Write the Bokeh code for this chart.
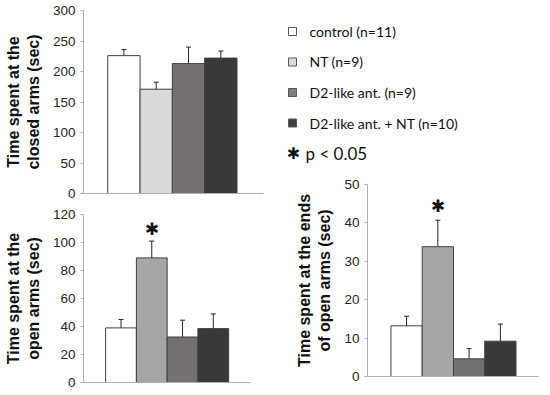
from bokeh.plotting import figure
from bokeh.models import Range1d, ColumnDataSource, Whisker, TeeHead, FixedTicker
from bokeh.layouts import row, column
from bokeh.core.properties import value
from bokeh.embed import file_html
from bokeh.resources import INLINE

# ---- data ----
groups = ["control (n=11)", "NT (n=9)", "D2-like ant. (n=9)", "D2-like ant. + NT (n=10)"]
positions = [1, 2, 3, 4]
closed_mean = [226, 171, 213, 222]
closed_err = [10, 11.5, 27, 11.5]
open_mean = [39, 89, 32.5, 38.5]
open_err = [6, 12, 12, 10.5]
ends_mean = [13.2, 33.8, 4.6, 9.2]
ends_err = [2.5, 6.9, 2.65, 4.45]
significant = [False, True, False, False]
closed_ticks = [0, 50, 100, 150, 200, 250, 300]
open_ticks = [0, 20, 40, 60, 80, 100, 120]
ends_ticks = [0, 10, 20, 30, 40, 50]
sig_label = "p < 0.05"

colors_closed = ["#ffffff", "#d9d9d9", "#767171", "#3b3838"]
colors_open = ["#ffffff", "#a6a6a6", "#767171", "#3b3838"]
legend_colors = ["#ffffff", "#d9d9d9", "#7f7f7f", "#404040"]

STAR = "\u2731"


def panel(width, height, xr, yend, ticks, label, means, errs, colors,
          bl, bt, bb, br, sig=None):
    p = figure(width=width, height=height, x_range=Range1d(*xr),
               y_range=Range1d(0, yend), output_backend="svg",
               toolbar_location=None, min_border_left=bl, min_border_top=bt,
               min_border_bottom=bb, min_border_right=br, frame_align=False)
    p.outline_line_color = None
    p.xgrid.grid_line_color = None
    p.ygrid.grid_line_color = None
    p.background_fill_color = "white"
    p.border_fill_color = "white"
    src = ColumnDataSource(dict(
        x=positions, top=means,
        upper=[m + e for m, e in zip(means, errs)],
        lower=[m - e for m, e in zip(means, errs)],
        color=colors))
    p.vbar(x="x", top="top", width=1.0, fill_color="color",
           line_color="#404040", line_width=1, source=src)
    w = Whisker(source=src, base="x", upper="upper", lower="lower",
                line_color="#262626", line_width=1,
                upper_head=TeeHead(size=5, line_color="#262626", line_width=1),
                lower_head=TeeHead(size=5, line_color="#262626", line_width=1))
    p.add_layout(w)
    if sig is not None:
        sx = [x for x, s in zip(positions, sig) if s]
        sy = [m + e + 0.075 * yend for m, e, s in zip(means, errs, sig) if s]
        p.text(x=sx, y=sy, text=[STAR] * len(sx), text_align="center",
               text_baseline="middle", text_font=value("DejaVu Sans"),
               text_font_size="17px", text_color="#111111")
    ya = p.yaxis[0]
    ya.ticker = FixedTicker(ticks=ticks)
    ya.axis_line_color = "#b0b0b0"
    ya.major_tick_line_color = "#b0b0b0"
    ya.major_tick_out = 3
    ya.major_tick_in = 0
    ya.minor_tick_line_color = None
    ya.major_label_text_font = "Liberation Sans"
    ya.major_label_text_font_size = "13.5px"
    ya.major_label_text_color = "#262626"
    ya.major_label_standoff = 5
    ya.axis_label = label
    ya.axis_label_text_font = "Liberation Sans"
    ya.axis_label_text_font_style = "bold"
    ya.axis_label_text_font_size = "16px"
    ya.axis_label_text_color = "#111111"
    ya.axis_label_standoff = 8
    xa = p.xaxis[0]
    xa.ticker = FixedTicker(ticks=[])
    xa.axis_line_color = "#b0b0b0"
    xa.major_tick_line_color = None
    xa.minor_tick_line_color = None
    xa.major_label_text_font_size = "0px"
    xa.major_label_standoff = 0
    xa.major_tick_out = 0
    return p


p_closed = panel(273, 200, (-0.25, 5.32), 300, closed_ticks,
                 "Time spent at the\nclosed arms (sec)",
                 closed_mean, closed_err, colors_closed, 83, 10, 7, 10)
p_open = panel(273, 192, (-0.22, 5.21), 120, open_ticks,
               "Time spent at the\nopen arms (sec)",
               open_mean, open_err, colors_open, 83, 14, 10, 23, sig=significant)
p_ends = panel(275, 217, (-0.25, 5.22), 50, ends_ticks,
               "Time spent at the ends\nof open arms (sec)",
               ends_mean, ends_err, colors_open, 94, 14, 11, 10, sig=significant)

# ---- legend panel ----
leg = figure(width=275, height=170, x_range=Range1d(0, 275),
             y_range=Range1d(4.557, -1.016), output_backend="svg",
             toolbar_location=None, min_border=0, frame_align=False)
leg.axis.visible = False
leg.grid.visible = False
leg.outline_line_color = None
idx = list(range(len(groups)))
leg.scatter(x=[19] * len(groups), y=idx, marker="square", size=8,
            fill_color=legend_colors, line_color="#595959", line_width=1)
leg.text(x=[36] * len(groups), y=idx, text=groups, text_baseline="middle",
         text_align="left", text_font=value("Lato"), text_font_size="14px",
         text_color="#111111")
leg.text(x=[20], y=[len(groups)], text=[STAR], text_baseline="middle",
         text_align="center", text_font=value("DejaVu Sans"),
         text_font_size="16px", text_color="#111111")
leg.text(x=[32], y=[len(groups)], text=[sig_label], text_baseline="middle",
         text_align="left", text_font=value("Lato"), text_font_size="17px",
         text_color="#111111")

layout = row(column(p_closed, p_open), column(leg, p_ends))

with open("out.html", "w") as f:
    f.write(file_html(layout, INLINE))
